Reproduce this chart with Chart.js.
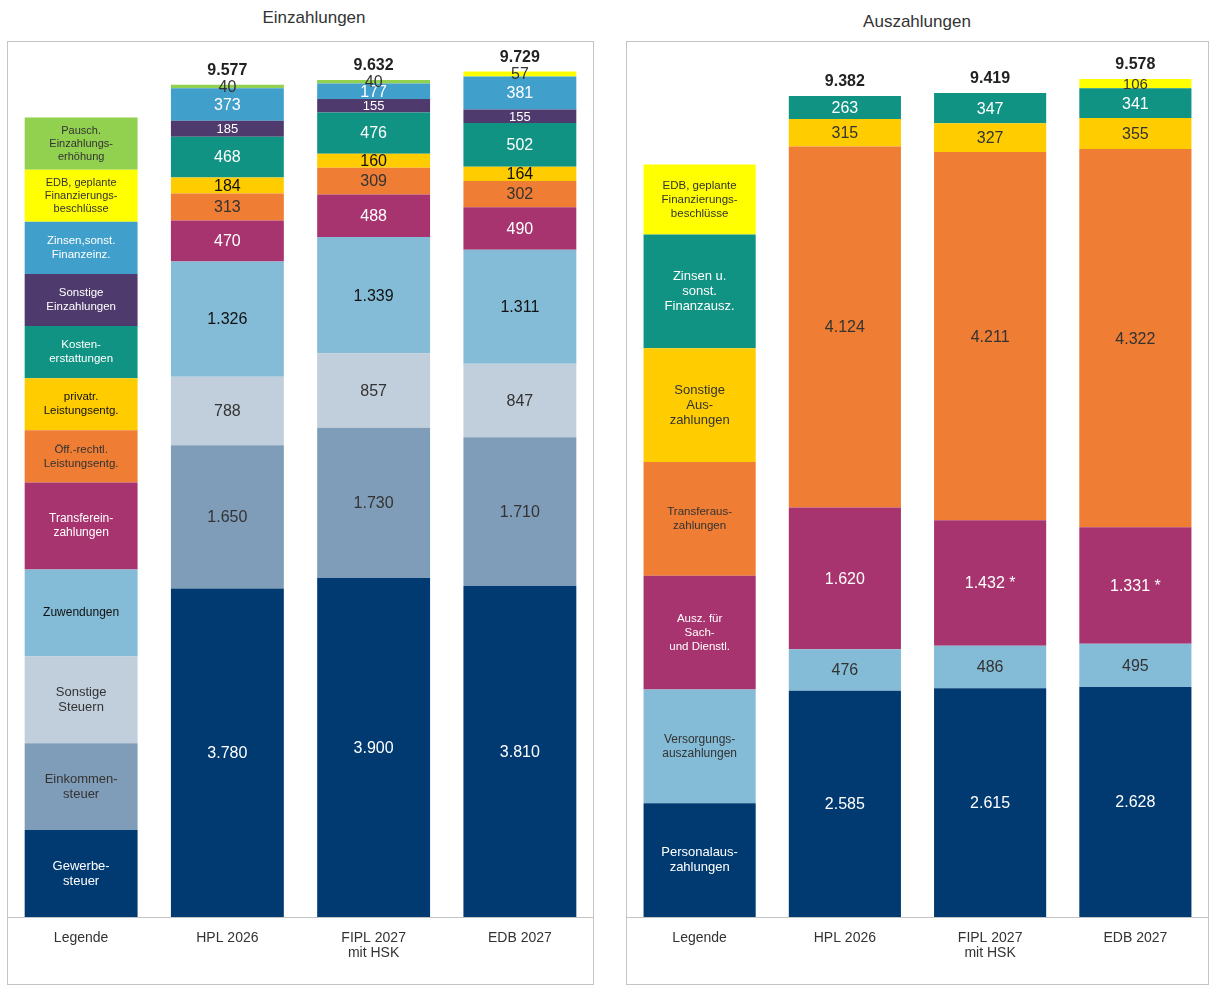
<!DOCTYPE html>
<html>
<head>
<meta charset="utf-8">
<script src="https://cdn.jsdelivr.net/npm/chart.js@4/dist/chart.umd.min.js"></script>
<style>
  html, body { margin: 0; padding: 0; background: #ffffff; }
  body { width: 1222px; height: 995px; position: relative; font-family: "Liberation Sans", Arial, sans-serif; }
  .title { position: absolute; font-size: 17px; color: #333333; white-space: nowrap; transform: translate(-50%, -50%); }
  .box { position: absolute; border: 1px solid #c4c4c4; box-sizing: border-box; }
  .inner { position: relative; width: 100%; height: 100%; }
</style>
</head>
<body>
<div class="title" style="left:314px; top:18px;">Einzahlungen</div>
<div class="title" style="left:917px; top:22px;">Auszahlungen</div>
<div class="box" style="left:7px; top:41px; width:587px; height:944px;"><div class="inner"><canvas id="cIn"></canvas></div></div>
<div class="box" style="left:626px; top:41px; width:583px; height:944px;"><div class="inner"><canvas id="cOut"></canvas></div></div>
<script>
// ---------- DATA ----------
const categories = ['Legende', 'HPL 2026', ['FIPL 2027', 'mit HSK'], 'EDB 2027'];

// Einzahlungen (HPL 2026, FIPL 2027 mit HSK, EDB 2027)
const gewerbesteuer      = [3780, 3900, 3810];
const einkommensteuer    = [1650, 1730, 1710];
const sonstigeSteuern    = [788, 857, 847];
const zuwendungen        = [1326, 1339, 1311];
const transfereinz       = [470, 488, 490];
const oeffRechtlEntg     = [313, 309, 302];
const privatrEntg        = [184, 160, 164];
const kostenerstattungen = [468, 476, 502];
const sonstigeEinz       = [185, 155, 155];
const zinsenEinz         = [373, 177, 381];
const edbEinz            = [0, 0, 57];
const pauschErhoehung    = [40, 40, 0];
const totalsIn           = [9577, 9632, 9729];
// legend column segment sizes (Einzahlungen)
const legendSizesIn      = [1000, 1000, 1000, 1000, 1000, 600, 600, 600, 600, 600, 600, 600];

// Auszahlungen
const personal           = [2585, 2615, 2628];
const versorgung         = [476, 486, 495];
const sachDienst         = [1620, 1432, 1331];
const sachDienstNote     = ['', ' *', ' *'];
const transferAusz       = [4124, 4211, 4322];
const sonstigeAusz       = [315, 327, 355];
const zinsenAusz         = [263, 347, 341];
const edbAusz            = [0, 0, 106];
const totalsOut          = [9382, 9419, 9578];
// legend column segment sizes (Auszahlungen)
const legendSizesOut     = [1300, 1300, 1300, 1300, 1300, 1300, 800];

// ---------- HELPERS ----------
const FONT = '"Liberation Sans", Arial, sans-serif';
function fmt(n) { return String(n).replace(/\B(?=(\d{3})+(?!\d))/g, '.'); }

function makeDs(name, lines, legFont, values, legendSize, color, textColor, fontSize, notes) {
  return {
    label: name,
    data: [legendSize].concat(values),
    backgroundColor: color,
    borderWidth: 0,
    legendLines: lines,
    legendFont: legFont,
    textColor: textColor,
    valFont: fontSize,
    notes: notes ? [''].concat(notes) : null
  };
}

const labelPlugin = {
  id: 'segLabels',
  afterDatasetsDraw(chart, args, opts) {
    const ctx = chart.ctx;
    chart.data.datasets.forEach((ds, di) => {
      const meta = chart.getDatasetMeta(di);
      meta.data.forEach((bar, i) => {
        const v = ds.data[i];
        if (!v) return;
        const cx = bar.x;
        const cy = (bar.y + bar.base) / 2;
        ctx.save();
        ctx.textAlign = 'center';
        ctx.textBaseline = 'middle';
        ctx.fillStyle = ds.textColor;
        if (i === 0) {
          ctx.font = ds.legendFont + 'px ' + FONT;
          const lh = Math.round(ds.legendFont * 1.18);
          const lines = ds.legendLines;
          lines.forEach((l, k) => ctx.fillText(l, cx, cy + (k - (lines.length - 1) / 2) * lh));
        } else {
          ctx.font = ds.valFont + 'px ' + FONT;
          const note = ds.notes ? ds.notes[i] : '';
          ctx.fillText(fmt(v) + note, cx, cy + 1);
        }
        ctx.restore();
      });
    });
    // totals
    const totals = opts.totals;
    for (let i = 1; i < chart.data.labels.length; i++) {
      let top = Infinity;
      chart.data.datasets.forEach((ds, di) => {
        const bar = chart.getDatasetMeta(di).data[i];
        if (ds.data[i]) top = Math.min(top, bar.y);
      });
      ctx.save();
      ctx.textAlign = 'center';
      ctx.textBaseline = 'middle';
      ctx.fillStyle = '#222222';
      ctx.font = 'bold 16px ' + FONT;
      ctx.fillText(fmt(totals[i - 1]), chart.getDatasetMeta(0).data[i].x, top - 14);
      ctx.restore();
    }
  }
};

function makeChart(id, datasets, totals, padTop) {
  return new Chart(document.getElementById(id), {
    type: 'bar',
    data: { labels: categories, datasets: datasets },
    plugins: [labelPlugin],
    options: {
      responsive: true,
      maintainAspectRatio: false,
      animation: false,
      layout: { padding: { top: padTop, left: 0, right: 0, bottom: 0 } },
      datasets: { bar: { categoryPercentage: 1.0, barPercentage: 0.772 } },
      plugins: {
        legend: { display: false },
        tooltip: { enabled: false },
        segLabels: { totals: totals }
      },
      scales: {
        x: {
          stacked: true,
          grid: { display: false, drawTicks: false },
          border: { display: true, color: '#c4c4c4', width: 1 },
          ticks: { color: '#333333', font: { family: FONT, size: 14, lineHeight: 1.1 }, padding: 13, maxRotation: 0, autoSkip: false },
          afterFit(scale) { scale.height = 67; }
        },
        y: {
          stacked: true,
          display: false,
          min: 0,
          max: 10000
        }
      }
    }
  });
}

const W = '#ffffff', D = '#333333', K = '#111111';

const dsIn = [
  makeDs('Gewerbesteuer', ['Gewerbe-', 'steuer'], 13, gewerbesteuer, legendSizesIn[0], '#003a70', W, 16),
  makeDs('Einkommensteuer', ['Einkommen-', 'steuer'], 13, einkommensteuer, legendSizesIn[1], '#7f9db9', D, 16),
  makeDs('Sonstige Steuern', ['Sonstige', 'Steuern'], 13, sonstigeSteuern, legendSizesIn[2], '#c1cedb', D, 16),
  makeDs('Zuwendungen', ['Zuwendungen'], 12, zuwendungen, legendSizesIn[3], '#84bbd6', K, 16),
  makeDs('Transfereinzahlungen', ['Transferein-', 'zahlungen'], 12, transfereinz, legendSizesIn[4], '#a8346f', W, 16),
  makeDs('Öff.-rechtl. Leistungsentg.', ['Öff.-rechtl.', 'Leistungsentg.'], 11.5, oeffRechtlEntg, legendSizesIn[5], '#ef7d33', D, 16),
  makeDs('privatr. Leistungsentg.', ['privatr.', 'Leistungsentg.'], 11.5, privatrEntg, legendSizesIn[6], '#ffcc00', K, 16),
  makeDs('Kostenerstattungen', ['Kosten-', 'erstattungen'], 11.5, kostenerstattungen, legendSizesIn[7], '#119384', W, 16),
  makeDs('Sonstige Einzahlungen', ['Sonstige', 'Einzahlungen'], 11.5, sonstigeEinz, legendSizesIn[8], '#4f3a6e', W, 13),
  makeDs('Zinsen, sonst. Finanzeinz.', ['Zinsen,sonst.', 'Finanzeinz.'], 11.5, zinsenEinz, legendSizesIn[9], '#419fcb', W, 16),
  makeDs('EDB, geplante Finanzierungsbeschlüsse', ['EDB, geplante', 'Finanzierungs-', 'beschlüsse'], 11, edbEinz, legendSizesIn[10], '#ffff00', D, 16),
  makeDs('Pausch. Einzahlungserhöhung', ['Pausch.', 'Einzahlungs-', 'erhöhung'], 11, pauschErhoehung, legendSizesIn[11], '#92d050', D, 16)
];

const dsOut = [
  makeDs('Personalauszahlungen', ['Personalaus-', 'zahlungen'], 13, personal, legendSizesOut[0], '#003a70', W, 16),
  makeDs('Versorgungsauszahlungen', ['Versorgungs-', 'auszahlungen'], 12, versorgung, legendSizesOut[1], '#84bbd6', D, 16),
  makeDs('Ausz. für Sach- und Dienstl.', ['Ausz. für', 'Sach-', 'und Dienstl.'], 11.5, sachDienst, legendSizesOut[2], '#a8346f', W, 16, sachDienstNote),
  makeDs('Transferauszahlungen', ['Transferaus-', 'zahlungen'], 11.5, transferAusz, legendSizesOut[3], '#ef7d33', D, 16),
  makeDs('Sonstige Auszahlungen', ['Sonstige', 'Aus-', 'zahlungen'], 13, sonstigeAusz, legendSizesOut[4], '#ffcc00', D, 16),
  makeDs('Zinsen u. sonst. Finanzausz.', ['Zinsen u.', 'sonst.', 'Finanzausz.'], 13, zinsenAusz, legendSizesOut[5], '#119384', W, 16),
  makeDs('EDB, geplante Finanzierungsbeschlüsse', ['EDB, geplante', 'Finanzierungs-', 'beschlüsse'], 11.5, edbAusz, legendSizesOut[6], '#ffff00', D, 15)
];

makeChart('cIn', dsIn, totalsIn, 6);
makeChart('cOut', dsOut, totalsOut, 0);
</script>
</body>
</html>
